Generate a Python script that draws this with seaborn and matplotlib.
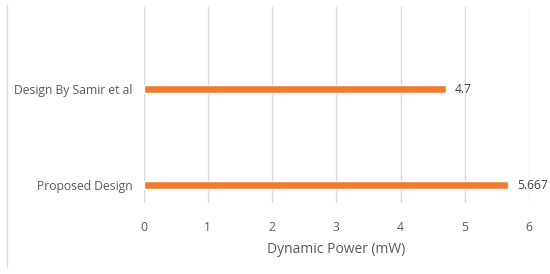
import matplotlib
matplotlib.use("Agg")
import matplotlib.pyplot as plt
import seaborn as sns
import pandas as pd
from matplotlib.lines import Line2D

categories = ["Design By Samir et al", "Proposed Design"]
values = [4.7, 5.667]
value_labels = ["4.7", "5.667"]
x_ticks = [0, 1, 2, 3, 4, 5, 6]

sns.set_theme(style="white")
plt.rcParams['font.family'] = ['Open Sans', 'DejaVu Sans']

df = pd.DataFrame({"category": categories, "value": values})

fig = plt.figure(figsize=(5.5, 2.74), dpi=100)
ax = fig.add_axes([0.261, 0.259, 0.701, 0.715])

sns.barplot(data=df, y="category", x="value", orient="h", color="#ED7D31",
            saturation=1, width=0.09, ax=ax)

ax.set_xlim(0, 6)
ax.set_ylim(1.1875, -0.854)
ax.set_xticks(x_ticks)
ax.set_xticklabels([str(t) for t in x_ticks])
ax.grid(axis="x", color="#D9D9D9", linewidth=1)
ax.set_axisbelow(True)
for s in ax.spines.values():
    s.set_visible(False)
ax.tick_params(axis="both", length=0, labelsize=8.7, colors="#595959")
ax.tick_params(axis="x", pad=13)
ax.tick_params(axis="y", pad=8)
ax.set_ylabel("")
ax.set_xlabel("Dynamic Power (mW)", fontsize=10, color="#595959", labelpad=6)

for i, (v, lab) in enumerate(zip(values, value_labels)):
    ax.annotate(lab, xy=(v, i), xytext=(6.5, 0), textcoords="offset points",
                va="center", ha="left", fontsize=8.7, color="#404040")

fig.add_artist(Line2D([7/550, 7/550], [1 - 5/274, 1 - 267/274],
                      transform=fig.transFigure, color="#D9D9D9", linewidth=1))

fig.savefig("out.png", dpi=100, facecolor="white")
